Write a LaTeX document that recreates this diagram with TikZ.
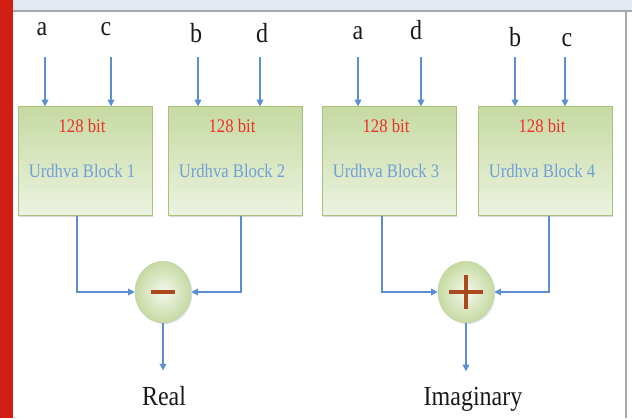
\documentclass[tikz,border=0pt]{standalone}
\usepackage{fontspec}
\setmainfont{Liberation Serif}
\usetikzlibrary{shapes.geometric, positioning, arrows.meta, shadows}

\definecolor{flowblue}{RGB}{91,143,209}
\definecolor{bitred}{RGB}{238,48,40}
\definecolor{nameblue}{RGB}{112,160,214}
\definecolor{blockdark}{RGB}{198,218,162}
\definecolor{blocklight}{RGB}{236,243,224}
\definecolor{blockedge}{RGB}{168,194,126}
\definecolor{signbrown}{RGB}{172,72,30}
\definecolor{barred}{RGB}{210,30,20}
\definecolor{bandgrey}{RGB}{227,233,241}
\definecolor{framegrey}{RGB}{168,168,168}

\newcommand{\tall}[1]{\scalebox{1}[1.15]{#1}}

\tikzset{
    block/.style={draw=blockedge, top color=blockdark, bottom color=blocklight,
        minimum width=100.5pt, minimum height=81.5pt,
        drop shadow={shadow xshift=1pt, shadow yshift=-1pt, opacity=.3}},
    adder/.style={draw=blockedge!70, ellipse, inner color=blocklight!60, outer color=blockdark,
        minimum width=42pt, minimum height=46pt,
        drop shadow={shadow xshift=1pt, shadow yshift=-1pt, opacity=.25}},
    flow/.style={draw=flowblue, line width=0.9pt, -{Triangle[width=5pt, length=5pt]}},
    sign/.style={draw=signbrown, line width=3pt},
    bittext/.style={anchor=base, text=bitred, font=\fontsize{12.5}{14}\selectfont},
    nametext/.style={anchor=base, text=nameblue, font=\fontsize{12.5}{14}\selectfont},
    inlabel/.style={anchor=base, text=black!90, font=\fontsize{18}{20}\selectfont},
    outlabel/.style={anchor=base, text=black!90, font=\fontsize{18}{20}\selectfont}
}

\begin{document}
\begin{tikzpicture}[x=0.75pt, y=-0.75pt]
    \useasboundingbox (0,0) rectangle (632,418);
    \fill[bandgrey] (0,0) rectangle (632,11);
    \draw[framegrey, line width=1.5pt] (13,11) -- (632,11);
    \draw[framegrey, line width=1.5pt] (626,11) -- (626,418);
    \fill[barred] (0,0) rectangle (13,418);

    % multiplier blocks
    \foreach \n/\x in {1/85, 2/235, 3/389, 4/545} {
        \node[block] (blk\n) at (\x,161) {};
        \node[bittext] (bit\n) at (\x-3,132) {\tall{128 bit}};
        \node[nametext] (name\n) at (\x-3,177) {\tall{Urdhva Block \n}};
    }

    % operands
    \foreach \lab/\lx/\ly/\ax/\n in {a/42/35/45/1, c/106/35/111/1, b/196/42/198/2, d/262/42/260/2,
                                    a/358/39/358/3, d/416/39/421/3, b/515/46/515/4, c/567/46/565/4} {
        \node[inlabel] (in\n\lab) at (\lx,\ly) {\tall{\lab}};
        \coordinate (src\n\lab) at (\ax,57);
        \draw[flow] (src\n\lab) -- (src\n\lab |- blk\n.north);
    }

    \node[adder] (sub) at (163,292) {};
    \node[adder] (add) at (466,292) {};
    \draw[sign] ([xshift=-9pt]sub.center) -- ([xshift=9pt]sub.center);
    \draw[sign] ([xshift=-12.5pt]add.center) -- ([xshift=12.5pt]add.center);
    \draw[sign] ([yshift=-12.5pt]add.center) -- ([yshift=12.5pt]add.center);

    \draw[flow] ([xshift=-6pt]blk1.south) |- (sub.west);
    \draw[flow] ([xshift=4.5pt]blk2.south) |- (sub.east);
    \draw[flow] ([xshift=-5.25pt]blk3.south) |- (add.west);
    \draw[flow] ([xshift=3pt]blk4.south) |- (add.east);

    \node[outlabel] (real) at (164,405) {\tall{Real}};
    \node[outlabel] (imag) at (473,405) {\tall{Imaginary}};
    \draw[flow, shorten >=8pt] (sub) -- (sub |- real.north);
    \draw[flow, shorten >=8pt] (add) -- (add |- imag.north);
\end{tikzpicture}
\end{document}
